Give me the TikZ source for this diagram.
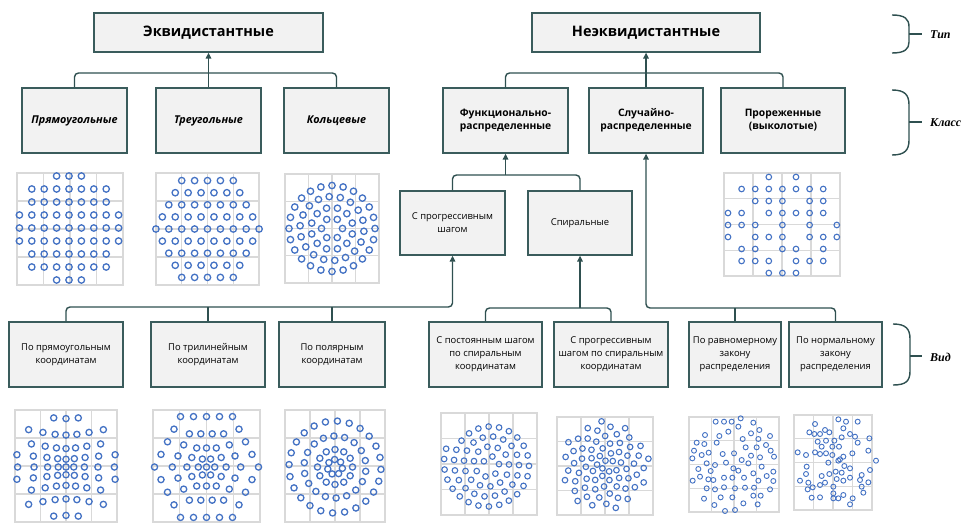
\documentclass[tikz,border=0pt]{standalone}
\usepackage{fontspec}
\setmainfont{Open Sans}
\newfontfamily\lblfont{Liberation Serif}
\usetikzlibrary{arrows.meta,shadows}
\definecolor{edgec}{HTML}{3A5C5C}
\definecolor{fillc}{HTML}{F2F2F2}
\definecolor{linec}{HTML}{2F5050}
\definecolor{dotblue}{HTML}{4472C4}
\definecolor{gridgray}{HTML}{D9D9D9}
\tikzset{
 box/.style={draw=edgec, fill=fillc, line width=1.3pt, align=center, inner sep=2pt,
   drop shadow={shadow xshift=1.3pt, shadow yshift=-1.3pt, opacity=0.3}, text=black},
 topbox/.style={box, font=\bfseries\fontsize{14.5}{16}\selectfont},
 clsbox/.style={box, font=\bfseries\fontsize{10.3}{13}\selectfont},
 clsit/.style={box, font=\bfseries\itshape\fontsize{10.8}{13}\selectfont},
 subbox/.style={box, font=\fontsize{9.4}{13}\selectfont},
 conn/.style={draw=linec, line width=1.4pt, rounded corners=4pt},
 arr/.style={conn, -{Triangle[width=5.5pt,length=6pt]}},
 brace/.style={draw=linec, line width=1.4pt},
 lbl/.style={font=\lblfont\bfseries\itshape\fontsize{12}{14}\selectfont, anchor=west, inner sep=0pt},
 gridc/.style={draw=gridgray, line width=1.1pt},
 dotc/.style={draw=dotblue, line width=1.3pt},
 dotm/.style={draw=dotblue, line width=1.1pt},
 dots/.style={draw=dotblue, line width=0.9pt},
}
\newcommand\pgrid[4]{%
 \draw[gridc] (#1,#2) rectangle (#3,#4);
 \foreach \q in {0.25,0.5,0.75} {
   \draw[gridc] ({#1+\q*(#3-#1)},#2) -- ({#1+\q*(#3-#1)},#4);
   \draw[gridc] (#1,{#2+\q*(#4-#2)}) -- (#3,{#2+\q*(#4-#2)});
 }}
\begin{document}
\begin{tikzpicture}[x=1pt,y=-1pt]
\fill[white] (0,0) rectangle (965,524);
\useasboundingbox (0,0) rectangle (965,524);

% ---- type row
\node[topbox, minimum width=229pt, minimum height=39pt] (eq) at (208.5,32.5) {Эквидистантные};
\node[topbox, minimum width=228pt, minimum height=39pt] (neq) at (646,32.5) {Неэквидистантные};

% ---- class row
\node[clsit, minimum width=105pt, minimum height=65pt] (c1) at (74.5,120.5) {Прямоугольные};
\node[clsit, minimum width=105pt, minimum height=65pt] (c2) at (208.5,120.5) {Треугольные};
\node[clsit, minimum width=105pt, minimum height=65pt] (c3) at (336.5,120.5) {Кольцевые};
\node[clsbox, minimum width=125pt, minimum height=65pt] (c4) at (505.5,120.5) {Функционально-\\распределенные};
\node[clsbox, minimum width=114pt, minimum height=65pt] (c5) at (646,120.5) {Случайно-\\распределенные};
\node[clsbox, minimum width=124pt, minimum height=65pt] (c6) at (783,120.5) {Прореженные\\(выколотые)};

% ---- middle row
\node[subbox, minimum width=105pt, minimum height=64pt] (m1) at (452.5,223) {С прогрессивным\\шагом};
\node[subbox, minimum width=104pt, minimum height=64pt] (m2) at (580,223) {Спиральные};

% ---- kind row
\node[subbox, minimum width=114pt, minimum height=65pt] (b1) at (66,354.5) {По прямоугольным\\координатам};
\node[subbox, minimum width=114pt, minimum height=65pt] (b2) at (208,354.5) {По трилинейным\\координатам};
\node[subbox, minimum width=106pt, minimum height=65pt] (b3) at (332,354.5) {По полярным\\координатам};
\node[subbox, minimum width=113pt, minimum height=65pt] (b4) at (485.5,354.5) {С постоянным шагом\\по спиральным\\координатам};
\node[subbox, minimum width=114pt, minimum height=65pt] (b5) at (611,354.5) {С прогрессивным\\шагом по спиральным\\координатам};
\node[subbox, minimum width=92pt, minimum height=65pt] (b6) at (735,354.5) {По равномерному\\закону\\распределения};
\node[subbox, minimum width=93pt, minimum height=65pt] (b7) at (835.5,354.5) {По нормальному\\закону\\распределения};

% ---- connectors
\coordinate (j1) at (208.5,73);
\coordinate (j2) at (646,73);
\coordinate (j3) at (505.5,175);
\coordinate (j4) at (452.5,307);
\coordinate (j5) at (580,308);
\coordinate (j6) at (646,308);

\draw[conn] (c1.north) |- (j1) -| (c3.north);
\draw[conn] (c2.north) -- (j1);
\draw[arr] (j1) -- (eq.south);

\draw[conn] (c4.north) |- (j2) -| (c6.north);
\draw[conn] (c5.north) -- (j2);
\draw[arr] (j2) -- (neq.south);

\draw[conn] (m1.north) |- (j3) -| (m2.north);
\draw[arr] (j3) -- (c4.south);

\draw[arr] (b1.north) |- (j4) -- (m1.south);
\draw[conn] (b2.north) -- (b2.north |- j4);
\draw[conn] (b3.north) -- (b3.north |- j4);

\draw[conn] (b4.north) |- (j5) -| (b5.north);
\draw[arr] (j5) -- (m2.south);

\draw[arr] (b7.north) |- (j6) -- (c5.south);
\draw[conn] (b6.north) -- (b6.north |- j6);

% ---- braces and labels
\draw[brace] (892,15) .. controls (905,15) and (909,19) .. (909,27) -- (909,42) .. controls (909,49) and (905,53) .. (892,53);
\draw[brace] (909,34) -- (922,34);
\node[lbl] (ltip) at (930,35) {Тип};
\draw[brace] (892,90) .. controls (905,90) and (909,95) .. (909,105) -- (909,140) .. controls (909,150) and (905,155) .. (892,155);
\draw[brace] (909,122) -- (922,122);
\node[lbl] (lcls) at (930,123) {Класс};
\draw[brace] (893,324) .. controls (906,324) and (910,329) .. (910,339) -- (910,371) .. controls (910,381) and (906,385) .. (893,385);
\draw[brace] (910,356) -- (922,356);
\node[lbl] (lvid) at (930,357) {Вид};

% ================= patterns: top row
% rectangular
\pgrid{17}{173}{123}{285}
\foreach \i in {-4,...,4} {
  \foreach \j in {-4,...,4} {
    \pgfmathtruncatemacro\ok{(\i*\i+\j*\j)<=18}
    \ifnum\ok=1
      \draw[dotc] ({69+12.4*(\i)},{228+13*(\j)}) circle[radius=3.2pt];
    \fi
  }
}
% triangular (hexagon)
\pgrid{156}{173}{259}{285}
\foreach \j in {-4,...,4} {
  \pgfmathtruncatemacro\nn{9-abs(\j)}
  \foreach \k in {1,...,\nn} {
    \draw[dotc] ({207.5+(\k-(\nn+1)/2)*12.9},{229+(\j)*12.1}) circle[radius=3.2pt];
  }
}
% rings
\pgrid{285}{174}{379}{283}
\foreach \r/\n/\ph in {10.5/6/0, 21/12/15, 32/18/5, 43/24/0} {
  \foreach \k in {1,...,\n} {
    \draw[dotc] ({332+\r*cos(360*\k/\n+\ph)},{228.5+\r*sin(360*\k/\n+\ph)}) circle[radius=3.2pt];
  }
}
% thinned
\pgrid{724}{173}{840}{276}
\foreach \r/\cs in {0/{3,5}, 1/{1,2,3,4,5,6,7}, 2/{2,3,4,6,7}, 3/{0,1,3,4,5,6,7}, 4/{0,1,2,4,6,8}, 5/{0,2,3,4,6,7,8}, 6/{1,2,4,5,7}, 7/{1,2,3,5,6,7}, 8/{3,4,5}} {
  \foreach \c in \cs {
    \draw[dotm] ({728+13.6*\c},{177+12*\r}) circle[radius=2.8pt];
  }
}

% ================= patterns: bottom row
% progressive rectangular
\pgrid{15}{410}{117}{522}
\foreach \i in {-4,...,4} {
  \foreach \j in {-4,...,4} {
    \pgfmathtruncatemacro\ok{(\i*\i+\j*\j)<=18}
    \ifnum\ok=1
      \pgfmathsetmacro\ff{6.3+1.45*sqrt(\i*\i+\j*\j)}
      \draw[dotc] ({66+\ff*(\i)},{467+\ff*(\j)}) circle[radius=3.1pt];
    \fi
  }
}
% progressive trilinear
\pgrid{153}{410}{260}{522}
\foreach \j in {-4,...,4} {
  \pgfmathtruncatemacro\nn{9-abs(\j)}
  \foreach \k in {1,...,\nn} {
    \pgfmathsetmacro\xx{\k-(\nn+1)/2}
    \pgfmathsetmacro\dd{max(abs(\j),abs(\xx)+abs(\j)/2)}
    \pgfmathsetmacro\ff{6.6+1.6*\dd}
    \draw[dotc] ({206.5+\ff*\xx},{467+1.12*\ff*0.866*(\j)}) circle[radius=3.1pt];
  }
}
% progressive polar
\pgrid{285}{410}{385}{522}
\foreach \r/\n/\ph in {7.5/7/10, 17.5/12/0, 31/18/8, 46/24/3} {
  \foreach \k in {1,...,\n} {
    \draw[dotc] ({335+\r*cos(360*\k/\n+\ph)},{467+\r*sin(360*\k/\n+\ph)}) circle[radius=3.1pt];
  }
}
% constant-step spiral
\pgrid{441}{413}{537}{515}
\foreach \n in {1,...,62} {
  \pgfmathsetmacro\th{sqrt(2*\n*10.5/1.59)}
  \pgfmathsetmacro\rr{1.59*\th}
  \pgfmathsetmacro\thd{mod(\th*57.2958,360)}
  \draw[dotm] ({489+\rr*cos(\thd)},{464+\rr*sin(\thd)}) circle[radius=2.8pt];
}
% progressive spiral
\pgrid{557}{417}{653}{515}
\foreach \n in {1,...,70} {
  \pgfmathsetmacro\rr{3.5*(\n^0.6)}
  \pgfmathsetmacro\thd{mod(\n*137.508,360)}
  \draw[dotm] ({605+\rr*cos(\thd)},{466+\rr*sin(\thd)}) circle[radius=2.8pt];
}
% uniform distribution (positions, 3x units from (420,400))
\pgrid{689}{417}{779}{512}
\foreach \a/\b in {887/65,912/65,935/65,962/55,1000/68,925/95,955/80,1018/90,993/100,855/105,
  830/128,853/132,890/128,968/117,1015/117,1050/108,822/152,845/165,866/158,908/162,942/160,
  977/142,1010/142,1052/152,993/167,1062/170,817/175,860/190,885/195,918/188,965/180,985/190,
  1020/172,1025/200,835/207,872/213,940/205,1060/215,1000/220,818/242,865/238,912/233,937/233,
  972/233,1040/228,1060/243,1015/242,860/265,885/268,912/262,945/265,975/263,1002/263,1050/268,
  1000/287,1022/287,852/296,902/292,937/292,883/315,970/310,1013/313,915/333,945/330,
  840/230,898/108,1038/135,955/212,880/240} {
  \draw[dots] ({420+\a/3},{400+\b/3}) circle[radius=2.5pt];
}
% normal distribution
\pgrid{794}{415}{872}{510}
\foreach \a/\b in {1255/58,1278/65,1313/65,1185/72,1168/97,1183/102,1200/102,1215/90,1228/97,
  1270/85,1290/102,1305/110,1313/128,1348/115,1193/125,1218/122,1243/122,1265/112,1205/140,
  1237/140,1257/140,1133/157,1158/165,1185/157,1200/162,1218/160,1237/165,1270/170,1297/160,
  1345/152,1368/182,1225/188,1255/182,1273/198,1260/178,1160/200,1290/205,1350/210,1158/222,
  1205/228,1228/222,1247/215,1265/218,1290/233,1325/225,1320/240,1140/242,1165/248,1200/255,
  1215/248,1250/237,1270/242,1345/247,1163/268,1178/262,1240/260,1325/260,1175/293,1200/292,
  1240/280,1240/295,1255/295,1270/285,1298/295,1330/278,1290/313} {
  \draw[dots] ({420+\a/3},{400+\b/3}) circle[radius=2.5pt];
}
\end{tikzpicture}
\end{document}
